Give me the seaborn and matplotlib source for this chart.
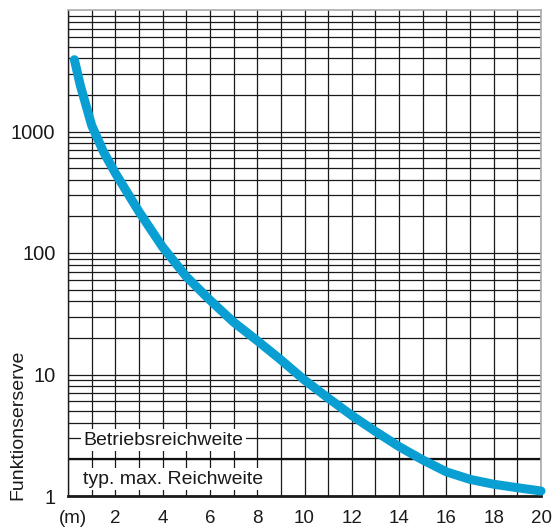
import matplotlib
matplotlib.use("Agg")
import matplotlib.pyplot as plt
import seaborn as sns
import pandas as pd
from matplotlib.ticker import FixedLocator, MultipleLocator, LogLocator, NullFormatter

sns.set_style("white")
plt.rcParams['font.family'] = ['Liberation Sans', 'DejaVu Sans']

# Data
distance_m = [0.27, 0.52, 1, 1.5, 2, 3, 4, 5, 6, 7, 8, 9, 10, 11, 12, 13, 14, 15, 16,
              17, 18, 19, 20]
reserve = [3900, 2400, 1125, 680, 455, 219, 112, 64, 41, 27, 19, 13.2, 9.0, 6.4, 4.6,
           3.4, 2.55, 1.98, 1.58, 1.37, 1.25, 1.17, 1.1]
x_ticks = [2, 4, 6, 8, 10, 12, 14, 16, 18, 20]
x_labels = ["2", "4", "6", "8", "10", "12", "14", "16", "18", "20"]
x_unit = "(m)"
y_ticks = [1, 10, 100, 1000]
y_labels = ["1", "10", "100", "1000"]
zone_labels = ["Betriebsreichweite", "typ. max. Reichweite"]
zone_limit = 2

df = pd.DataFrame({"x": distance_m, "y": reserve})

fig = plt.figure(figsize=(5.54, 5.29), dpi=100)
ax = fig.add_axes([68/554, 1-496/529, (541-68)/554, (496-10)/529])

ax.set_yscale("log")
ax.set_xlim(0, 20)
ax.set_ylim(1, 10000)

ax.xaxis.set_major_locator(FixedLocator(x_ticks))
ax.xaxis.set_minor_locator(MultipleLocator(1))
ax.set_xticklabels(x_labels)
ax.yaxis.set_major_locator(FixedLocator(y_ticks))
ax.set_yticklabels(y_labels)
ax.yaxis.set_minor_locator(LogLocator(base=10, subs=range(2, 10)))
ax.yaxis.set_minor_formatter(NullFormatter())

ax.grid(which="both", color="#1a1a1a", linewidth=0.9)
ax.set_axisbelow(True)
ax.tick_params(axis="both", which="both", length=0, colors="#1a1a1a")
ax.tick_params(axis="y", pad=9, labelsize=14.5)
ax.tick_params(axis="x", pad=10, labelsize=13.5)

# unit label in place of the x=0 tick label
ax.annotate(x_unit, xy=(0.2, 0), xycoords=("data", "axes fraction"),
            xytext=(0, -10), textcoords="offset points", ha="center", va="top",
            fontsize=13.5, color="#1a1a1a", annotation_clip=False)

for s in ["top", "right"]:
    ax.spines[s].set_color("#aaaaaa")
    ax.spines[s].set_linewidth(1.2)
ax.spines["left"].set_color("#1a1a1a")
ax.spines["left"].set_linewidth(1.0)
ax.spines["bottom"].set_color("#1a1a1a")
ax.spines["bottom"].set_linewidth(2.0)

ax.axhline(zone_limit, color="#111111", linewidth=1.6, zorder=2)

ax.text(0.65, 2.89, zone_labels[0], fontsize=14, ha="left", va="center", color="#1a1a1a",
        bbox=dict(facecolor="white", edgecolor="none", pad=1.5), zorder=3)
ax.text(0.65, 1.38, zone_labels[1], fontsize=14, ha="left", va="center", color="#1a1a1a",
        bbox=dict(facecolor="white", edgecolor="none", pad=1.5), zorder=3)

sns.lineplot(data=df, x="x", y="y", ax=ax, color="#0a9fd2", linewidth=6.5,
             solid_capstyle="round", solid_joinstyle="round", zorder=5, clip_on=False)
ax.set_xlabel("")
ax.set_ylabel("")

fig.text(18/554, 1-500/529, "Funktionserserve", rotation=90, ha="center", va="bottom",
         fontsize=14, color="#1a1a1a")

fig.savefig("out.png", dpi=100)
